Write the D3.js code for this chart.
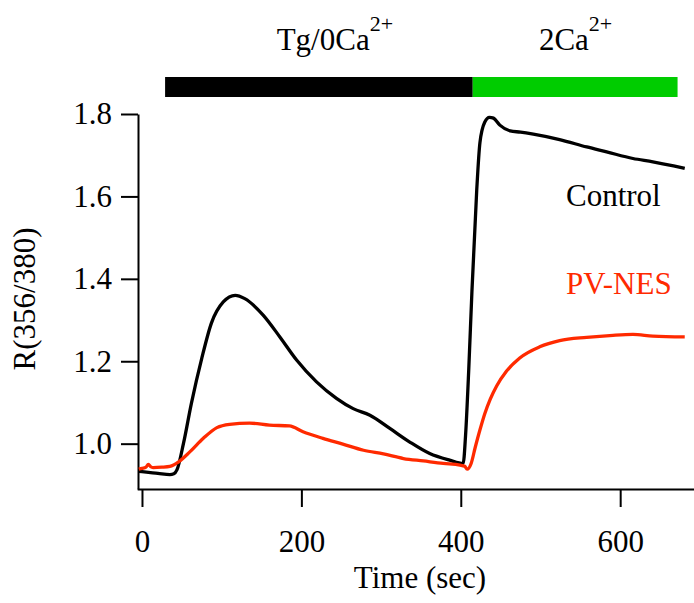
<!DOCTYPE html>
<html>
<head>
<meta charset="utf-8">
<script src="https://cdn.jsdelivr.net/npm/d3@7"></script>
<style>
  body { margin: 0; background: #fff; }
  svg text { font-family: 'Liberation Serif', 'Times New Roman', serif; }
  .axis path, .axis line { stroke: #000; stroke-width: 2; }
  .axis text { font-size: 31px; fill: #000; }
</style>
</head>
<body>
<svg width="694" height="603"></svg>
<script>
// Control trace (black)
const controlTime = [-4, 0, 20, 35, 40, 44, 52, 62, 75, 87, 102, 117, 129, 152, 173, 194, 219, 244, 265, 286, 311, 336, 361, 386, 403, 406, 410, 414, 420, 424, 430, 436, 441, 449, 462, 475, 491, 524, 558, 583, 616, 641, 667, 681]
const controlRatio = [0.933, 0.932, 0.928, 0.925, 0.927, 0.937, 1.0, 1.098, 1.207, 1.292, 1.344, 1.36, 1.352, 1.312, 1.259, 1.203, 1.15, 1.11, 1.085, 1.069, 1.037, 1.004, 0.976, 0.96, 0.952, 1.02, 1.18, 1.37, 1.615, 1.73, 1.78, 1.792, 1.79, 1.773, 1.759, 1.756, 1.751, 1.738, 1.72, 1.708, 1.692, 1.684, 1.674, 1.668]

// PV-NES trace (red)
const nesTime = [-4, 0, 5, 8, 11, 14, 25, 35, 46, 60, 77, 94, 110, 135, 160, 185, 202, 227, 252, 278, 303, 328, 353, 378, 399, 405, 408, 413, 418, 424, 430, 437, 445, 457, 474, 499, 524, 558, 591, 616, 641, 681]
const nesRatio = [0.938, 0.94, 0.943, 0.95, 0.944, 0.942, 0.943, 0.945, 0.956, 0.98, 1.013, 1.039, 1.047, 1.05, 1.045, 1.043, 1.029, 1.013, 0.999, 0.984, 0.975, 0.964, 0.958, 0.952, 0.948, 0.945, 0.938, 0.952, 0.99, 1.033, 1.072, 1.108, 1.14, 1.175, 1.208, 1.235, 1.25, 1.258, 1.263, 1.265, 1.261, 1.259]

// treatment bars
const phaseNames = ['Tg/0Ca', '2Ca']
const phaseStart = [29, 415]
const phaseEnd = [415, 672]
const phaseColors = ['#000000', '#00cc00']

const xTicks = [0, 200, 400, 600]
const yTicks = [1.0, 1.2, 1.4, 1.6, 1.8]

const serif = "'Liberation Serif', 'Times New Roman', serif"

const svg = d3.select('svg')

const xScale = d3.scaleLinear()
  .domain([-6, 693])
  .range([137.2, 694.3])

const yScale = d3.scaleLinear()
  .domain([0.89, 1.8])
  .range([489, 114])

// x axis
const xAxis = d3.axisBottom(xScale)
  .tickValues(xTicks)
  .tickFormat(d3.format('d'))
  .tickSize(18)
  .tickSizeOuter(0)
  .tickPadding(23)

svg.append('g')
  .attr('class', 'axis')
  .attr('transform', `translate(0, ${yScale.range()[0]})`)
  .call(xAxis)
  .attr('font-family', serif)

// y axis
const yAxis = d3.axisLeft(yScale)
  .tickValues(yTicks)
  .tickFormat(d3.format('.1f'))
  .tickSize(17)
  .tickSizeOuter(0)
  .tickPadding(9)

svg.append('g')
  .attr('class', 'axis')
  .attr('transform', 'translate(138, 0)')
  .call(yAxis)
  .attr('font-family', serif)

svg.append('text')
  .attr('x', 420)
  .attr('y', 588)
  .attr('text-anchor', 'middle')
  .style('font-size', '31px')
  .text('Time (sec)')

svg.append('text')
  .attr('transform', 'rotate(-90)')
  .attr('x', -299)
  .attr('y', 35)
  .attr('text-anchor', 'middle')
  .style('font-size', '31px')
  .text('R(356/380)')

// bars
svg.selectAll('rect.phase')
  .data(phaseNames)
  .join('rect')
  .attr('class', 'phase')
  .attr('x', (d, i) => xScale(phaseStart[i]))
  .attr('width', (d, i) => xScale(phaseEnd[i]) - xScale(phaseStart[i]))
  .attr('y', 77)
  .attr('height', 20)
  .attr('fill', (d, i) => phaseColors[i])

const labelStart = [169, 498]
const phaseLabels = svg.selectAll('text.phase')
  .data(phaseNames)
  .join('text')
  .attr('class', 'phase')
  .attr('x', (d, i) => xScale(labelStart[i]))
  .attr('y', 50)
  .style('font-size', '31px')

phaseLabels.append('tspan').text(d => d)
phaseLabels.append('tspan')
  .attr('dy', -19)
  .style('font-size', '22px')
  .text('2+')

// traces
const line = d3.line()
  .x(d => xScale(d[0]))
  .y(d => yScale(d[1]))
  .curve(d3.curveMonotoneX)

const control = d3.zip(controlTime, controlRatio)
const nes = d3.zip(nesTime, nesRatio)

svg.append('path')
  .attr('d', line(control))
  .attr('fill', 'none')
  .attr('stroke', '#000')
  .attr('stroke-width', 3.3)
  .attr('stroke-linejoin', 'round')

svg.append('path')
  .attr('d', line(nes))
  .attr('fill', 'none')
  .attr('stroke', '#ff2a00')
  .attr('stroke-width', 3.3)
  .attr('stroke-linejoin', 'round')

svg.append('text')
  .attr('x', 566)
  .attr('y', 206)
  .style('font-size', '31px')
  .attr('fill', '#000')
  .text('Control')

svg.append('text')
  .attr('x', 566)
  .attr('y', 294)
  .style('font-size', '31px')
  .attr('fill', '#ff2a00')
  .text('PV-NES')
</script>
</body>
</html>
